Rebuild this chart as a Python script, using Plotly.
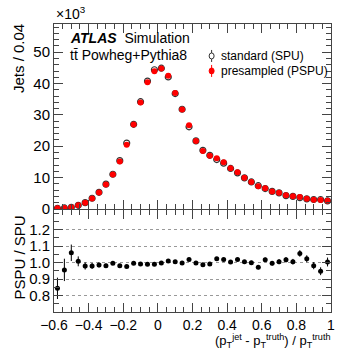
import plotly.graph_objects as go

# Bin centres of (pT_jet - pT_truth)/pT_truth, bin width 0.04
bin_centers = [round(-0.58 + 0.04 * i, 2) for i in range(40)]

# Standard pile-up (SPU) jet counts per bin
jets_spu = [200, 300, 500, 1150, 2000, 3400, 5300, 7900, 11050, 15400,
            21000, 27000, 34200, 40800, 44400, 44900, 42100, 36800, 31800, 26200,
            21700, 18700, 17100, 15750, 14600, 12900, 11500, 9900, 8600, 7400,
            6500, 5600, 5100, 4250, 4000, 3600, 3200, 3000, 3000, 2550]

# Ratio presampled / standard and its statistical uncertainty
ratio = [0.844, 0.956, 1.060, 1.008, 0.980, 0.980, 0.986, 0.982, 0.996, 0.982,
         0.976, 0.996, 0.992, 0.990, 0.990, 0.998, 1.010, 1.006, 0.998, 1.020,
         0.998, 0.988, 0.992, 1.024, 1.020, 1.004, 1.020, 1.006, 1.000, 0.972,
         1.018, 0.996, 1.006, 1.018, 1.006, 1.056, 1.024, 0.982, 0.948, 1.004]
ratio_err = [0.065, 0.068, 0.050, 0.030, 0.022, 0.018, 0.015, 0.012, 0.010, 0.008,
             0.007, 0.006, 0.005, 0.005, 0.005, 0.005, 0.005, 0.005, 0.005, 0.006,
             0.006, 0.007, 0.007, 0.008, 0.008, 0.009, 0.009, 0.010, 0.011, 0.012,
             0.013, 0.014, 0.015, 0.016, 0.017, 0.020, 0.021, 0.022, 0.024, 0.027]

# Presampled pile-up (PSPU) counts follow from the ratio
jets_pspu = [s * r for s, r in zip(jets_spu, ratio)]

y_ticks = [0, 10000, 20000, 30000, 40000, 50000]
y_tick_labels = ["0", "10", "20", "30", "40", "50"]
x_ticks = [-0.6, -0.4, -0.2, 0, 0.2, 0.4, 0.6, 0.8, 1.0]
x_tick_labels = ["\u22120.6", "\u22120.4", "\u22120.2", "0", "0.2", "0.4", "0.6", "0.8", "1"]
r_ticks = [0.8, 0.9, 1.0, 1.1, 1.2]
r_tick_labels = ["0.8", "0.9", "1.0", "1.1", "1.2"]

legend_labels = ["standard (SPU)", "presampled (PSPU)"]
legend_colors = ["#333333", "#ff0000"]

FONT = "Liberation Sans, Arial, Helvetica, sans-serif"
AX = "#444444"

fig = go.Figure()

fig.add_trace(go.Scatter(
    x=bin_centers, y=jets_spu, mode="markers", name=legend_labels[0], showlegend=False,
    marker=dict(symbol="circle-open", size=6, color="#333333", line=dict(width=1.2)),
    error_y=dict(type="data", array=[s ** 0.5 for s in jets_spu], color="#333333",
                 thickness=1, width=0),
    xaxis="x", yaxis="y"))
fig.add_trace(go.Scatter(
    x=bin_centers, y=jets_pspu, mode="markers", name=legend_labels[1], showlegend=False,
    marker=dict(symbol="circle", size=6, color="#ff0000"),
    error_y=dict(type="data", array=[s ** 0.5 for s in jets_pspu], color="#ff0000",
                 thickness=1, width=0),
    xaxis="x", yaxis="y"))
fig.add_trace(go.Scatter(
    x=bin_centers, y=ratio, mode="markers", showlegend=False,
    marker=dict(symbol="circle", size=5, color="black"),
    error_y=dict(type="data", array=ratio_err, color="black", thickness=1, width=0),
    xaxis="x2", yaxis="y2"))

common_x = dict(range=[-0.6, 1.0], tickvals=x_ticks, ticks="inside", ticklen=9,
                tickcolor=AX, linecolor=AX, showline=True, mirror="allticks",
                showgrid=False, zeroline=False, ticklabeloverflow="allow",
                minor=dict(dtick=0.05, tick0=0, ticks="inside", ticklen=5, tickcolor=AX))

# Hand-drawn legend: marker with vertical error line plus label
shapes = []
annotations = []
legend_x = 0.569
legend_y = [0.889, 0.837]
for label, color, ly, filled in zip(legend_labels, legend_colors, legend_y, [False, True]):
    shapes.append(dict(type="line", xref="paper", yref="paper", xsizemode="pixel",
                       ysizemode="pixel", xanchor=legend_x, yanchor=ly,
                       x0=0, x1=0, y0=-6, y1=6, line=dict(color=color, width=1)))
    shapes.append(dict(type="circle", xref="paper", yref="paper", xsizemode="pixel",
                       ysizemode="pixel", xanchor=legend_x, yanchor=ly,
                       x0=-2.5, x1=2.5, y0=-3, y1=3,
                       line=dict(color=color, width=1),
                       fillcolor=color if filled else "white"))
    annotations.append(dict(text=label, x=legend_x + 0.028, y=ly, xref="paper",
                            yref="paper", xanchor="left", yanchor="middle",
                            showarrow=False, font=dict(size=12)))

annotations += [
    dict(text="<b><i>ATLAS</i></b>  Simulation", x=0.05, y=0.951, xref="paper",
         yref="paper", xanchor="left", yanchor="middle", showarrow=False,
         font=dict(size=14)),
    dict(text="tt\u0304 Powheg+Pythia8", x=0.05, y=0.892,
         xref="paper", yref="paper", xanchor="left", yanchor="middle",
         showarrow=False, font=dict(size=14)),
    dict(text="\u00d710<sup>3</sup>", x=0.0, y=1.0, xref="paper", yref="paper",
         xanchor="left", yanchor="bottom", showarrow=False, font=dict(size=14)),
    dict(text="Jets / 0.04", x=-0.128, y=1.007, xref="paper", yref="paper",
         xanchor="center", yanchor="top", textangle=-90, showarrow=False,
         font=dict(size=15)),
    dict(text="PSPU / SPU", x=-0.128, y=0.1875, xref="paper", yref="paper",
         xanchor="center", yanchor="middle", textangle=-90, showarrow=False,
         font=dict(size=15)),
    dict(text="(p<sub>T</sub><sup>jet</sup> - p<sub>T</sub><sup>truth</sup>) / p<sub>T</sub><sup>truth</sup>",
         x=1.0, y=-0.134, xref="paper", yref="paper", xanchor="right",
         yanchor="bottom", showarrow=False, font=dict(size=13), borderpad=0),
]

fig.update_layout(
    width=339, height=349,
    margin=dict(l=54, r=4, t=24, b=37),
    paper_bgcolor="white", plot_bgcolor="white",
    font=dict(family=FONT, size=14, color="black"),
    showlegend=False,
    xaxis=dict(**common_x, domain=[0, 1], anchor="y", showticklabels=False),
    yaxis=dict(domain=[0.358, 1], range=[0, 59000], tickvals=y_ticks,
               ticktext=y_tick_labels, ticks="inside", ticklen=9, tickcolor=AX,
               linecolor=AX, showline=True, mirror="allticks", showgrid=False,
               zeroline=False, tickfont=dict(size=15),
               minor=dict(dtick=2000, tick0=0, ticks="inside", ticklen=5, tickcolor=AX)),
    xaxis2=dict(**common_x, domain=[0, 1], anchor="y2", ticktext=x_tick_labels,
                tickfont=dict(size=14)),
    yaxis2=dict(domain=[0, 0.354], range=[0.7, 1.32], tickvals=r_ticks,
                ticktext=r_tick_labels, ticks="inside", ticklen=9, tickcolor=AX,
                linecolor=AX, showline=True, mirror="allticks",
                showgrid=True, gridcolor="#999999", griddash="dot", gridwidth=1,
                zeroline=False, tickfont=dict(size=15),
                minor=dict(dtick=0.05, tick0=0, ticks="inside", ticklen=5, tickcolor=AX)),
    shapes=shapes,
    annotations=annotations,
)

fig.write_html("out.html")
